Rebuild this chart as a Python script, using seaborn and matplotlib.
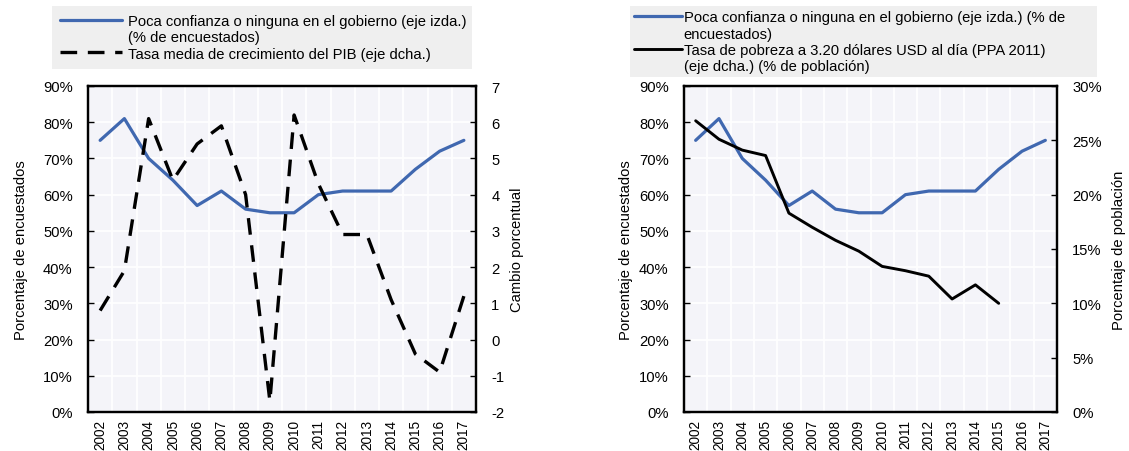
import matplotlib
matplotlib.use("Agg")
import matplotlib.pyplot as plt
from matplotlib.lines import Line2D
from matplotlib.ticker import FixedLocator, FuncFormatter
import seaborn as sns
import numpy as np
import pandas as pd

# data
years = list(range(2002, 2018))
confianza = [75, 81, 70, 64, 57, 61, 56, 55, 55, 60, 61, 61, 61, 67, 72, 75]
pib = [0.8, 1.9, 6.1, 4.4, 5.4, 5.9, 4.0, -1.7, 6.2, 4.3, 2.9, 2.9, 1.1, -0.4, -0.9, 1.2]
pobreza_years = list(range(2002, 2016))
pobreza = [26.8, 25.1, 24.1, 23.6, 18.3, 17.0, 15.8, 14.8, 13.4, 13.0, 12.5, 10.4, 11.7, 10.0]

lbl_conf_l = ["Poca confianza o ninguna en el gobierno (eje izda.)", "(% de encuestados)"]
lbl_pib = "Tasa media de crecimiento del PIB (eje dcha.)"
lbl_conf_r = ["Poca confianza o ninguna en el gobierno (eje izda.) (% de", "encuestados)"]
lbl_pob = ["Tasa de pobreza a 3.20 dólares USD al día (PPA 2011)", "(eje dcha.) (% de población)"]

df_conf = pd.DataFrame({"year": years, "value": confianza})
df_pib = pd.DataFrame({"year": years, "value": pib})
df_pob = pd.DataFrame({"year": pobreza_years, "value": pobreza})

BLUE = "#4068b0"
BG = "#f4f4f9"
LEG_BG = "#efefef"
DASH = [5, 3.2]
FS = 10.6

sns.set_style("white")
plt.rcParams["font.family"] = ["Liberation Sans", "DejaVu Sans"]
plt.rcParams["font.size"] = FS
plt.rcParams["axes.unicode_minus"] = False
for k in ("text.color", "axes.labelcolor", "xtick.color", "ytick.color"):
    plt.rcParams[k] = "black"

fig = plt.figure(figsize=(11.29, 4.52), dpi=100)
W, H = 1129, 452


def box(x0, x1, y0=87, y1=413):
    return [x0 / W, (H - y1) / H, (x1 - x0) / W, (y1 - y0) / H]


def style_axes(ax, ax2, left_pad):
    ax.set_facecolor(BG)
    ax.set_xlim(2001.5, 2017.5)
    ax.set_xticks(years)
    ax.set_xticklabels([str(y) for y in years], rotation=90)
    ax.xaxis.set_minor_locator(FixedLocator(np.arange(2002.5, 2017.5, 1)))
    ax.tick_params(axis="x", which="major", length=0, pad=5, labelsize=9.8)
    ax.tick_params(axis="x", which="minor", length=4, width=1, direction="in")
    ax.set_ylim(0, 90)
    ax.set_yticks(range(0, 91, 10))
    ax.yaxis.set_major_formatter(FuncFormatter(lambda v, p: f"{v:.0f}%"))
    ax.tick_params(axis="y", length=4, width=1, direction="in", labelsize=FS, pad=11)
    ax2.tick_params(axis="y", length=4, width=1, direction="in", labelsize=FS, pad=11)
    ax.grid(True, axis="y", color="white", linewidth=1.3)
    ax.grid(True, axis="x", which="minor", color="white", linewidth=1.3)
    ax.grid(False, axis="x", which="major")
    ax.set_axisbelow(True)
    for a in (ax, ax2):
        for s in a.spines.values():
            s.set_color("black")
            s.set_linewidth(1.6)
    ax.set_xlabel("")
    ax.set_ylabel("Porcentaje de encuestados", fontsize=FS, labelpad=left_pad)


def add_legend(handles, labels, x0, x1, hlen, hpad, bpad):
    leg = fig.legend(handles, labels, loc="upper left",
                     bbox_to_anchor=(x0 / W, 1 - 7 / H - 0.01, (x1 - x0) / W, 0.01),
                     mode="expand", borderaxespad=0, frameon=True, fancybox=False,
                     handlelength=hlen, handletextpad=hpad, labelspacing=0.15,
                     borderpad=bpad, fontsize=FS)
    leg.get_frame().set_facecolor(LEG_BG)
    leg.get_frame().set_edgecolor("none")
    leg.get_frame().set_alpha(1)
    return leg


# ---- left panel
axL = fig.add_axes(box(88, 476))
axL2 = axL.twinx()
sns.lineplot(data=df_conf, x="year", y="value", ax=axL, color=BLUE, linewidth=2.3)
sns.lineplot(data=df_pib, x="year", y="value", ax=axL2, color="black", linewidth=2.4)
axL2.lines[0].set_dashes(DASH)
axL2.set_ylim(-2, 7)
axL2.set_yticks(range(-2, 8))
axL2.set_ylabel("Cambio porcentual", fontsize=FS, labelpad=4)
style_axes(axL, axL2, 11)

h_blue = Line2D([], [], color=BLUE, linewidth=2.3)
h_none = Line2D([], [], color="none")
h_dash = Line2D([], [], color="black", linewidth=2.4, dashes=DASH)
add_legend([h_blue, h_none, h_dash], [lbl_conf_l[0], lbl_conf_l[1], lbl_pib],
           52, 472, 4.2, 0.4, 0.55)

# ---- right panel
axR = fig.add_axes(box(684, 1057))
axR2 = axR.twinx()
sns.lineplot(data=df_conf, x="year", y="value", ax=axR, color=BLUE, linewidth=2.3)
sns.lineplot(data=df_pob, x="year", y="value", ax=axR2, color="black", linewidth=2.1)
axR2.set_ylim(0, 30)
axR2.set_yticks(range(0, 31, 5))
axR2.yaxis.set_major_formatter(FuncFormatter(lambda v, p: f"{v:.0f}%"))
axR2.set_ylabel("Porcentaje de población", fontsize=FS, labelpad=7)
style_axes(axR, axR2, 4)

h_black = Line2D([], [], color="black", linewidth=2.1)
add_legend([h_blue, h_none, h_black, h_none],
           [lbl_conf_r[0], lbl_conf_r[1], lbl_pob[0], lbl_pob[1]],
           630, 1097, 3.2, 0.15, 0.3)

fig.savefig("out.png", dpi=100, facecolor="white")
